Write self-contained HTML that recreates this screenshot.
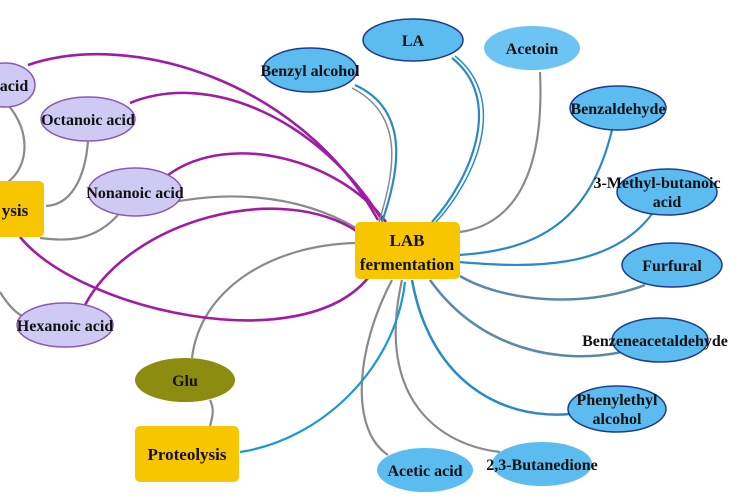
<!DOCTYPE html>
<html><head><meta charset="utf-8"><style>
html,body{margin:0;padding:0;background:#fff;}
svg{display:block;}
text{font-family:"Liberation Serif",serif;font-weight:bold;fill:#111;text-anchor:middle;}
</style></head><body>
<svg width="750" height="500" viewBox="0 0 750 500" xmlns="http://www.w3.org/2000/svg">
<rect width="750" height="500" fill="#fff"/>
<g fill="none" stroke-width="2.2">
<path d="M8,105 C30,130 30,165 8,182" stroke="#8a8a8a"/>
<path d="M88,141 C85,180 70,205 46,206" stroke="#8a8a8a"/>
<path d="M118,215 C95,240 70,242 40,238" stroke="#8a8a8a"/>
<path d="M0,292 C8,305 15,312 22,316" stroke="#8a8a8a"/>
<path d="M135,212 C220,185 300,195 356,228" stroke="#8a8a8a"/>
<path d="M356,243 C270,245 200,290 192,358" stroke="#8a8a8a"/>
<path d="M210,400 C215,410 212,418 210,426" stroke="#8a8a8a"/>
<path d="M378,220 C300,80 130,30 28,65" stroke="#a01ca4" stroke-width="2.6"/>
<path d="M382,220 C320,120 210,70 130,103" stroke="#a01ca4" stroke-width="2.6"/>
<path d="M386,222 C340,160 230,130 168,175" stroke="#a01ca4" stroke-width="2.6"/>
<path d="M85,305 C130,220 280,180 358,232" stroke="#a01ca4" stroke-width="2.6"/>
<path d="M20,237 C80,310 300,360 368,278" stroke="#a01ca4" stroke-width="2.6"/>
<path d="M355,85 C410,110 400,170 382,222" stroke="#2a8ac8"/>
<path d="M352,88 C405,115 395,170 379,222" stroke="#8a8a8a" stroke-width="1.5"/>
<path d="M452,58 C505,100 470,180 432,222" stroke="#2a8ac8"/>
<path d="M455,56 C510,100 475,180 436,222" stroke="#2a8ac8" stroke-width="1.5"/>
<path d="M540,72 C545,180 510,225 460,232" stroke="#8a8a8a"/>
<path d="M612,130 C590,220 540,250 459,255" stroke="#2a8ac8"/>
<path d="M652,214 C610,270 530,268 459,262" stroke="#2a8ac8"/>
<path d="M645,285 C580,310 500,300 460,276" stroke="#5a8aa8" stroke-width="2.5"/>
<path d="M430,280 C480,350 560,365 622,352" stroke="#5a8aa8" stroke-width="2.5"/>
<path d="M412,280 C430,380 500,420 570,414" stroke="#2a8ac8" stroke-width="2.5"/>
<path d="M402,280 C375,400 440,445 500,452" stroke="#8a8a8a"/>
<path d="M392,280 C355,350 350,430 388,455" stroke="#8a8a8a"/>
<path d="M240,452 C320,440 395,370 405,282" stroke="#1a9ad0"/>
</g>
<g fill="#cfcaf4" stroke="#8a5ab0" stroke-width="1.5">
<ellipse cx="5" cy="85" rx="30" ry="22"/>
<ellipse cx="88" cy="119" rx="47" ry="22"/>
<ellipse cx="135" cy="192" rx="47" ry="24"/>
<ellipse cx="65" cy="325" rx="48" ry="22"/>
</g>
<rect x="-10" y="181" width="54" height="56" rx="5" fill="#f7c600"/>
<rect x="135" y="426" width="104" height="56" rx="5" fill="#f7c600"/>
<rect x="355" y="222" width="105" height="57" rx="5" fill="#f7c600"/>
<ellipse cx="185" cy="380" rx="50" ry="22" fill="#8c8c10"/>
<g fill="#5cbcf0" stroke="#1e3c8c" stroke-width="1.5">
<ellipse cx="310" cy="70" rx="47" ry="22"/>
<ellipse cx="413" cy="40" rx="50" ry="21"/>
<ellipse cx="618" cy="108" rx="48" ry="22"/>
<ellipse cx="667" cy="192" rx="50" ry="23"/>
<ellipse cx="672" cy="265" rx="50" ry="22"/>
<ellipse cx="660" cy="340" rx="48" ry="22"/>
<ellipse cx="617" cy="409" rx="49" ry="23"/>
</g>
<ellipse cx="532" cy="48" rx="48" ry="22" fill="#6cc4f2"/>
<ellipse cx="425" cy="470" rx="48" ry="22" fill="#5cbcf0"/>
<ellipse cx="542" cy="464" rx="50" ry="22" fill="#5cbcf0"/>
<g font-size="16">
<text x="14" y="91">acid</text>
<text x="88" y="125">Octanoic acid</text>
<text x="135" y="198">Nonanoic acid</text>
<text x="15" y="216" font-size="17">ysis</text>
<text x="65" y="331">Hexanoic acid</text>
<text x="185" y="386">Glu</text>
<text x="187" y="460" font-size="17">Proteolysis</text>
<text x="407" y="246" font-size="17">LAB</text>
<text x="407" y="270" font-size="17">fermentation</text>
<text x="310" y="76">Benzyl alcohol</text>
<text x="413" y="46">LA</text>
<text x="532" y="54">Acetoin</text>
<text x="618" y="114">Benzaldehyde</text>
<text x="657" y="188">3-Methyl-butanoic</text>
<text x="667" y="207">acid</text>
<text x="672" y="271">Furfural</text>
<text x="655" y="346">Benzeneacetaldehyde</text>
<text x="617" y="405">Phenylethyl</text>
<text x="617" y="424">alcohol</text>
<text x="425" y="476">Acetic acid</text>
<text x="542" y="470">2,3-Butanedione</text>
</g>
</svg>
</body></html>
